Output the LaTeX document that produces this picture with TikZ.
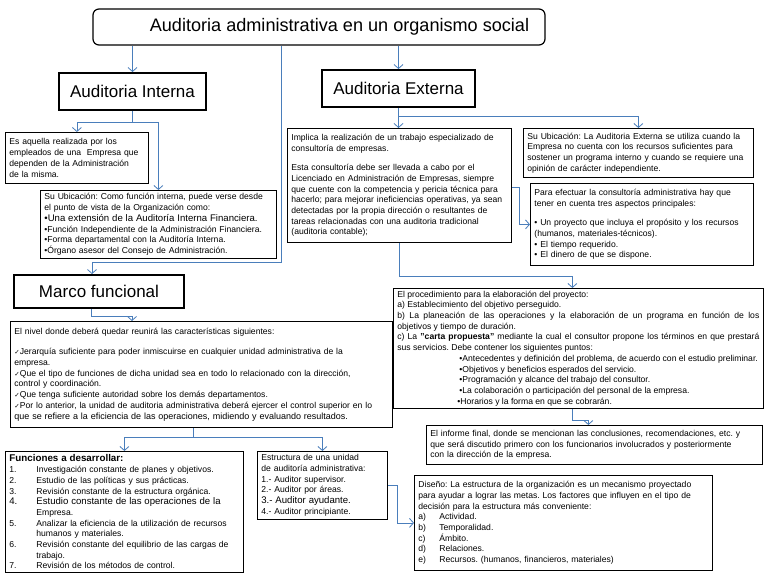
\documentclass[tikz,border=0pt]{standalone}
\usepackage{fontspec}
\setmainfont{Liberation Sans}
\newfontfamily\symfont{DejaVu Sans}
\usetikzlibrary{arrows.meta,calc}
\definecolor{linkblue}{HTML}{4A7EBB}
\frenchspacing
\newcommand{\smalltext}{\fontsize{8.6}{10.7}\selectfont}
\newcommand{\wordbig}{\fontsize{9.6}{10.7}\selectfont}
\newcommand{\chk}{{\symfont\fontsize{6.5}{6.5}\selectfont ✓}}
\tikzset{
  titlebox/.style={draw, rounded corners=6pt, line width=1.2pt,
    minimum width=452pt, minimum height=36pt, font=\fontsize{18.1}{22}\selectfont},
  headbox/.style={draw, line width=1.9pt, minimum height=37pt,
    font=\fontsize{17}{20}\selectfont},
  textbox/.style={draw, line width=0.8pt, anchor=north west, align=left,
    inner xsep=4pt, inner ysep=2pt, font=\smalltext},
  arr/.style={-{Straight Barb[length=4pt,width=9pt]}, line width=0.8pt, draw=linkblue}
}

\begin{document}
\begin{tikzpicture}[x=1pt,y=-1pt]
        \path[use as bounding box, fill=white] (0,0) rectangle (768,576);
        \node[titlebox] (title) at (319,27) {\hspace*{41pt}Auditoria administrativa en un organismo social};
        \node[headbox, minimum width=147pt] (intr) at (132.5,91.5) {Auditoria Interna};
        \node[headbox, minimum width=153pt] (ext) at (398.5,88.5) {Auditoria Externa};
        \node[headbox, minimum width=170pt, minimum height=33pt] (marco) at (99,291.5) {Marco funcional};
        \node[textbox, text width=135pt, minimum height=51pt] (esaq) at (5,132) {%
          Es aquella realizada por los\\
          empleados de una \ Empresa que\\
          dependen de la Administración\\
          de la misma.};
        \node[textbox, text width=228pt, minimum height=68pt] (ubint) at (40,190) {%
          Su Ubicación: Como función interna, puede verse desde\\
          el punto de vista de la Organización como:\\
          {\wordbig •Una extensión de la Auditoría Interna Financiera.}\\
          •Función Independiente de la Administración Financiera.\\
          •Forma departamental con la Auditoría Interna.\\
          •Órgano asesor del Consejo de Administración.};
        \node[textbox, text width=216pt, minimum height=114pt] (extizq) at (287,128) {%
          Implica la realización de un trabajo especializado de\\
          consultoría de empresas.\\[9pt]
          Esta consultoría debe ser llevada a cabo por el\\
          Licenciado en Administración de Empresas, siempre\\
          que cuente con la competencia y pericia técnica para\\
          hacerlo; para mejorar ineficiencias operativas, ya sean\\
          detectadas por la propia dirección o resultantes de\\
          tareas relacionadas con una auditoria tradicional\\
          (auditoria contable);};
        \node[textbox, text width=222pt, minimum height=49pt] (ubext) at (523,128) {%
          Su Ubicación: La Auditoria Externa se utiliza cuando la\\
          Empresa no cuenta con los recursos suficientes para\\
          sostener un programa interno y cuando se requiere una\\
          opinión de carácter independiente.};
        \node[textbox, text width=215pt, minimum height=82pt] (para) at (530,183) {%
          Para efectuar la consultoría administrativa hay que\\
          tener en cuenta tres aspectos principales:\\[9pt]
          • Un proyecto que incluya el propósito y los recursos\\
          (humanos, materiales-técnicos).\\
          • El tiempo requerido.\\
          • El dinero de que se dispone.};
        \node[textbox, text width=362pt, minimum height=120pt, align=justify] (proced) at (393,288) {%
          El procedimiento para la elaboración del proyecto:\\
          a) Establecimiento del objetivo perseguido.\\
          b) La planeación de las operaciones y la elaboración de un programa en función de los\linebreak
          objetivos y tiempo de duración.\\
          c) La \textbf{"carta propuesta"} mediante la cual el consultor propone los términos en que prestará\linebreak
          sus servicios. Debe contener los siguientes puntos:\\
          \hspace*{62pt}•Antecedentes y definición del problema, de acuerdo con el estudio preliminar.\\
          \hspace*{62pt}•Objetivos y beneficios esperados del servicio.\\
          \hspace*{62pt}•Programación y alcance del trabajo del consultor.\\
          \hspace*{62pt}•La colaboración o participación del personal de la empresa.\\
          \hspace*{60pt}•Horarios y la forma en que se cobrarán.};
        \node[textbox, text width=328pt, minimum height=39pt] (inf) at (426,425) {%
          El informe final, donde se mencionan las conclusiones, recomendaciones, etc. y\\
          que será discutido primero con los funcionarios involucrados y posteriormente\\
          con la dirección de la empresa.};
        \node[textbox, text width=374pt, minimum height=106pt] (marcobox) at (10,321) {%
          El nivel donde deberá quedar reunirá las características siguientes:\\[10pt]
          \chk Jerarquía suficiente para poder inmiscuirse en cualquier unidad administrativa de la\\
          empresa.\\
          \chk Que el tipo de funciones de dicha unidad sea en todo lo relacionado con la dirección,\\
          control y coordinación.\\
          \chk Que tenga suficiente autoridad sobre los demás departamentos.\\
          \chk Por lo anterior, la unidad de auditoria administrativa deberá ejercer el control superior en lo\\
          {\fontsize{9}{10.7}\selectfont que se refiere a la eficiencia de las operaciones, midiendo y evaluando resultados.}};
        \node[textbox, text width=230pt, minimum height=121pt] (fun) at (5,451) {%
          {\fontsize{9.8}{11}\selectfont\textbf{Funciones a desarrollar:}}\\
          \makebox[27pt][l]{1.}Investigación constante de planes y objetivos.\\
          \makebox[27pt][l]{2.}Estudio de las políticas y sus prácticas.\\
          \makebox[27pt][l]{3.}Revisión constante de la estructura orgánica.\\
          {\wordbig\makebox[27pt][l]{4.}Estudio constante de las operaciones de la}\\
          \hspace*{27pt}Empresa.\\
          \makebox[27pt][l]{5.}Analizar la eficiencia de la utilización de recursos\\
          \hspace*{27pt}humanos y materiales.\\
          \makebox[27pt][l]{6.}Revisión constante del equilibrio de las cargas de\\
          \hspace*{27pt}trabajo.\\
          \makebox[27pt][l]{7.}Revisión de los métodos de control.};
        \node[textbox, text width=122pt, minimum height=68pt] (est) at (257,451) {%
          Estructura de una unidad\\
          de auditoría administrativa:\\
          1.- Auditor supervisor.\\
          2.- Auditor por áreas.\\
          {\wordbig 3.- Auditor ayudante.}\\
          4.- Auditor principiante.};
        \node[textbox, text width=290pt, minimum height=95pt] (dis) at (414,475) {%
          Diseño: La estructura de la organización es un mecanismo proyectado\\
          para ayudar a lograr las metas. Los factores que influyen en el tipo de\\
          decisión para la estructura más conveniente:\\
          \makebox[21pt][l]{a)}Actividad.\\
          \makebox[21pt][l]{b)}Temporalidad.\\
          \makebox[21pt][l]{c)}Ámbito.\\
          \makebox[21pt][l]{d)}Relaciones.\\
          \makebox[21pt][l]{e)}Recursos. (humanos, financieros, materiales)};
        \coordinate (split) at (281,262);
        \coordinate (mfin) at (132,321);
        \draw[arr] (title.south -| intr.north) -- (intr.north);
        \draw[arr] (title.south -| ext.north) -- (ext.north);
        \draw[arr] (title.south -| split) -- (split) -| ([xshift=-7pt]marco.north);
        \foreach \t in {esaq,ubint}
          \draw[arr] (intr.south) -- ++(0,11) -| (\t.north);
        \draw[arr] (ext.south) -- (ext.south |- extizq.north);
        \draw[arr] (ext.south) -- ++(0,8) -| (ubext.north);
        \draw[arr] ([yshift=-59pt]extizq.north east) -- ++(8,0) |- (para.west);
        \draw[arr] (extizq.south) -- ++(0,34) -| ([xshift=-6pt]proced.north);
        \draw[arr] ([xshift=-6pt]proced.south) -- ++(0,12) -| ([xshift=-6pt]inf.north);
        \draw[arr] ([xshift=-8pt]marco.south) -- ++(0,7) -| (mfin);
        \foreach \t in {fun,est}
          \draw[arr] ([xshift=-8pt]marcobox.south) -- ++(0,10) -| (\t.north);
        \draw[arr] (est.east) -- ++(10,0) |- (dis.west);
\end{tikzpicture}
\end{document}
